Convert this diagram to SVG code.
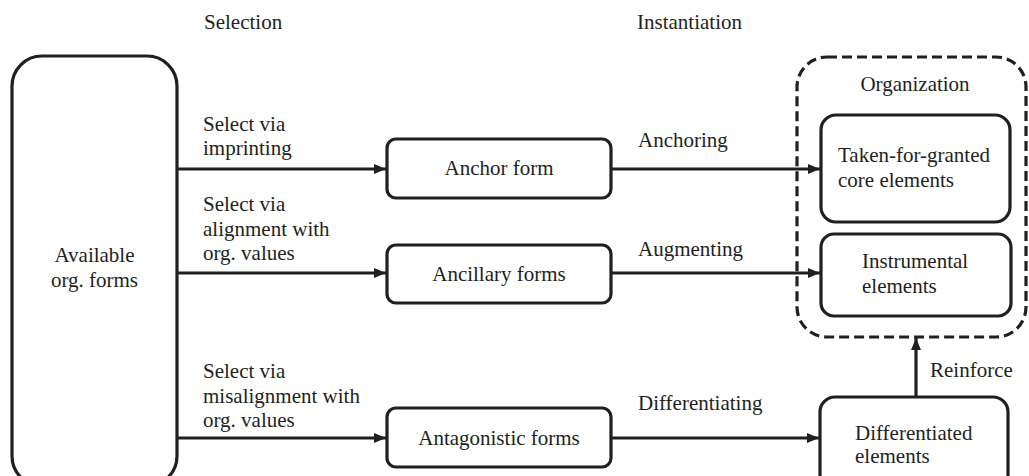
<svg xmlns="http://www.w3.org/2000/svg" width="1029" height="476" viewBox="0 0 1029 476">
<style>
text{font-family:'Liberation Serif','DejaVu Serif',serif;font-size:21px;fill:#231f20}
.box{fill:#fff;stroke:#231f20;stroke-width:3.2}
.dash{fill:none;stroke:#231f20;stroke-width:3.2;stroke-dasharray:10 5}
.c{text-anchor:middle}
.edge{stroke:#231f20;stroke-width:3.2;fill:none;marker-end:url(#ah)}
</style>
<defs>
<marker id="ah" markerWidth="13" markerHeight="12" refX="12" refY="6" orient="auto" markerUnits="userSpaceOnUse">
<path d="M0,1 L12,6 L0,11 Z" fill="#231f20"/>
</marker>
</defs>
<rect width="1029" height="476" fill="#fff"/>
<text x="204" y="29" font-family="Liberation Serif, serif">Selection</text>
<text x="637" y="29" font-family="Liberation Serif, serif">Instantiation</text>

<g id="connectors" font-family="Liberation Serif, serif">
<line class="edge" x1="177" y1="169" x2="386" y2="169"/>
<line class="edge" x1="177" y1="273" x2="386" y2="273"/>
<line class="edge" x1="177" y1="438" x2="386" y2="438"/>
<line class="edge" x1="611" y1="169" x2="820" y2="169"/>
<line class="edge" x1="611" y1="273" x2="820" y2="273"/>
<line class="edge" x1="611" y1="438" x2="819" y2="438"/>
<line class="edge" x1="916" y1="397" x2="916" y2="338"/>
<text x="203" y="131">Select via</text>
<text x="203" y="155">imprinting</text>
<text x="203" y="211">Select via</text>
<text x="203" y="236">alignment with</text>
<text x="203" y="260">org. values</text>
<text x="203" y="378">Select via</text>
<text x="203" y="403">misalignment with</text>
<text x="203" y="427">org. values</text>
<text x="638" y="147">Anchoring</text>
<text x="638" y="256">Augmenting</text>
<text x="638" y="410">Differentiating</text>
<text x="930" y="377">Reinforce</text>
</g>

<g id="available">
<rect class="box" x="12" y="56" width="165" height="430" rx="30"/>
<text class="c" x="94.5" y="262">Available</text>
<text class="c" x="94.5" y="287">org. forms</text>
</g>
<g id="anchor">
<rect class="box" x="387" y="139" width="224" height="59" rx="9"/>
<text class="c" x="499" y="175">Anchor form</text>
</g>
<g id="ancillary">
<rect class="box" x="387" y="245" width="224" height="58" rx="9"/>
<text class="c" x="499" y="281">Ancillary forms</text>
</g>
<g id="antagonistic">
<rect class="box" x="387" y="408" width="224" height="59" rx="9"/>
<text class="c" x="499" y="445">Antagonistic forms</text>
</g>
<g id="organization">
<rect class="dash" x="797" y="57" width="229" height="280" rx="30"/>
<text class="c" x="915" y="91">Organization</text>
</g>
<g id="core">
<rect class="box" x="821" y="115" width="189" height="107" rx="15"/>
<text x="838" y="162">Taken-for-granted</text>
<text x="838" y="187">core elements</text>
</g>
<g id="instrumental">
<rect class="box" x="821" y="234" width="190" height="82" rx="13"/>
<text x="862" y="268">Instrumental</text>
<text x="862" y="293">elements</text>
</g>
<g id="differentiated">
<rect class="box" x="820" y="397" width="188" height="100" rx="15"/>
<text x="855" y="440">Differentiated</text>
<text x="855" y="463">elements</text>
</g>
</svg>
